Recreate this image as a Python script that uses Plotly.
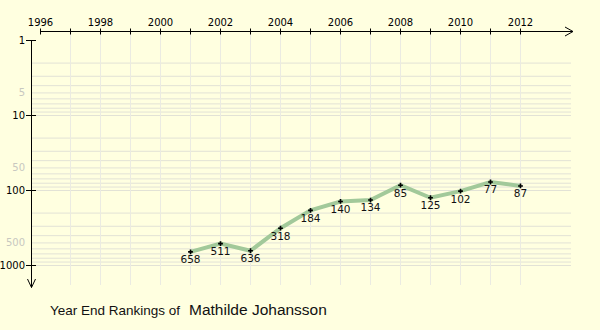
import plotly.graph_objects as go

# Year-end singles rankings
years = [2001, 2002, 2003, 2004, 2005, 2006, 2007, 2008, 2009, 2010, 2011, 2012]
ranks = [658, 511, 636, 318, 184, 140, 134, 85, 125, 102, 77, 87]

# Axis annotation values
year_tick_labels = [1996, 1998, 2000, 2002, 2004, 2006, 2008, 2010, 2012]
tick_mark_years = list(range(1996, 2013))
grid_years = list(range(1997, 2013))
major_ranks = [1, 10, 100, 1000]
faint_ranks = [5, 50, 500]
grid_ranks = [m * 10 ** k for k in range(3) for m in range(2, 11)]

title_lead = "Year End Rankings of"
player_name = "Mathilde Johansson"

# Canvas geometry
W, H = 600, 330
ML, MR, MT, MB = 26, 26, 26, 40
PW, PH = W - ML - MR, H - MT - MB
PX_PER_YEAR = 30.0
PX_PER_DECADE = 75.0
X0_PX, Y0_PX = 40.5, 40.5  # pixel centre of 1996 / rank 1

x_range = [1996 + (ML - X0_PX) / PX_PER_YEAR, 1996 + (W - MR - X0_PX) / PX_PER_YEAR]
y_range = [(H - MB - Y0_PX) / PX_PER_DECADE, (MT - Y0_PX) / PX_PER_DECADE]


def px(p):
    return (p - ML) / PW


def py(q):
    return 1 - (q - MT) / PH


BG = "#FFFFE0"
GRID_H = "#e2e2d6"
GRID_V = "#ebebe2"
FONT = "DejaVu Sans"

fig = go.Figure()

fig.add_trace(go.Scatter(
    x=years, y=ranks,
    mode="lines+markers+text",
    line=dict(color="#a2c99a", width=4),
    marker=dict(symbol="cross", size=4, color="black"),
    text=[str(r) for r in ranks],
    textposition="bottom center",
    textfont=dict(family=FONT, size=10.5, color="#111111"),
    hoverinfo="skip",
    showlegend=False,
    cliponaxis=False,
))

shapes = []
# horizontal grid at log minor values
for v in grid_ranks:
    shapes.append(dict(type="line", layer="below", xref="paper", yref="y",
                       x0=px(31), x1=px(571), y0=v, y1=v,
                       line=dict(color=GRID_H, width=1)))
# vertical grid at each year
for yr in grid_years:
    shapes.append(dict(type="line", layer="below", xref="x", yref="paper",
                       x0=yr, x1=yr, y0=py(31.5), y1=py(285),
                       line=dict(color=GRID_V, width=1)))
# x axis line along the top with arrow
shapes.append(dict(type="line", xref="paper", yref="paper",
                   x0=px(40), x1=px(573), y0=py(31.5), y1=py(31.5),
                   line=dict(color="black", width=1)))
shapes.append(dict(type="path", xref="paper", yref="paper",
                   path=f"M{px(565)},{py(27)} L{px(573)},{py(31.5)} L{px(565)},{py(36)}",
                   line=dict(color="black", width=1)))
for yr in tick_mark_years:
    shapes.append(dict(type="line", xref="x", yref="paper",
                       x0=yr, x1=yr, y0=py(28.5), y1=py(34.5),
                       line=dict(color="black", width=1)))
# y axis line on the left with downward arrow
shapes.append(dict(type="line", xref="paper", yref="paper",
                   x0=px(31.5), x1=px(31.5), y0=py(40), y1=py(287.5),
                   line=dict(color="black", width=1)))
shapes.append(dict(type="path", xref="paper", yref="paper",
                   path=f"M{px(27.5)},{py(279)} L{px(31.5)},{py(287.5)} L{px(35.5)},{py(279)}",
                   line=dict(color="black", width=1)))
for v in major_ranks:
    shapes.append(dict(type="line", xref="paper", yref="y",
                       x0=px(26), x1=px(36), y0=v, y1=v,
                       line=dict(color="black", width=1)))

y_tickvals = sorted(major_ranks + faint_ranks)
y_ticktext = [str(v) if v in major_ranks else f'<span style="color:#c8c8c0">{v}</span>'
              for v in y_tickvals]

fig.update_layout(
    width=W, height=H, autosize=False,
    margin=dict(l=ML, r=MR, t=MT, b=MB, pad=0),
    paper_bgcolor=BG, plot_bgcolor=BG,
    shapes=shapes,
    xaxis=dict(range=x_range, side="top", tickmode="array", automargin=False,
               tickvals=year_tick_labels, ticktext=[str(y) for y in year_tick_labels],
               showgrid=False, zeroline=False, showline=False, ticks="",
               ticklabelstandoff=-3,
               tickfont=dict(family=FONT, size=10, color="black"),
               fixedrange=True),
    yaxis=dict(type="log", range=y_range, tickmode="array", automargin=False,
               tickvals=y_tickvals, ticktext=y_ticktext,
               showgrid=False, zeroline=False, showline=False, ticks="",
               tickfont=dict(family=FONT, size=10, color="black"),
               fixedrange=True),
    annotations=[
        dict(xref="paper", yref="paper", x=px(48), y=py(310), xanchor="left", yanchor="middle",
             text=title_lead, showarrow=False,
             font=dict(family="Liberation Sans", size=13.5, color="#111111")),
        dict(xref="paper", yref="paper", x=px(187), y=py(309), xanchor="left", yanchor="middle",
             text=player_name, showarrow=False,
             font=dict(family="Liberation Sans", size=15.5, color="#111111")),
    ],
)

fig.write_html("out.html")
